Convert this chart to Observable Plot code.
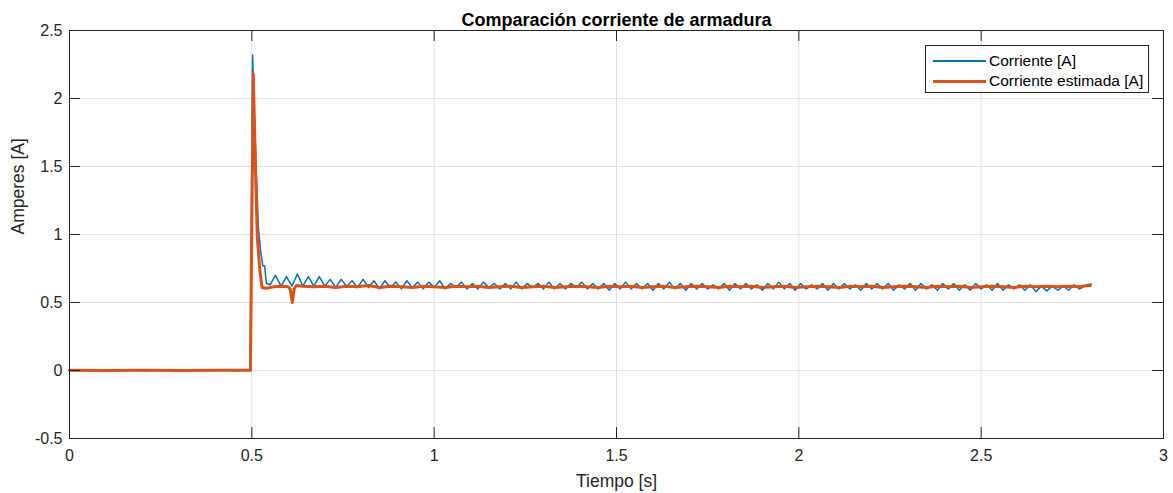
<!DOCTYPE html>
<html><head><meta charset="utf-8">
<script src="https://cdn.jsdelivr.net/npm/d3@7"></script>
<script src="https://cdn.jsdelivr.net/npm/@observablehq/plot@0.6"></script>
<style>
body{margin:0;background:#fff;}
#wrap{position:relative;width:1173px;height:493px;font-family:"Liberation Sans",Arial,sans-serif;}
.legend{position:absolute;left:925px;top:45px;width:222px;height:46px;border:1px solid #262626;background:#fff;font-size:15.5px;color:#000;}
.row{position:absolute;left:7px;height:20px;display:flex;align-items:center;white-space:nowrap;}
.sw{width:53px;margin-right:3px;}
</style></head><body><div id="wrap"></div>
<script>
const title = "Comparación corriente de armadura";
const xLabel = "Tiempo [s]";
const yLabel = "Amperes [A]";
const seriesNames = ["Corriente [A]", "Corriente estimada [A]"];
const seriesColors = ["#0072BD", "#D95319"];
const xTicks = [0, 0.5, 1, 1.5, 2, 2.5, 3];
const yTicks = [-0.5, 0, 0.5, 1, 1.5, 2, 2.5];

const timeMeasured = [0, 0.03, 0.06, 0.09, 0.12, 0.15, 0.18, 0.21, 0.24, 0.27, 0.30, 0.33, 0.36, 0.39, 0.42, 0.45, 0.48, 0.496, 0.502, 0.507, 0.5125, 0.518, 0.524, 0.530, 0.535, 0.540,
0.550, 0.565, 0.580, 0.595, 0.610, 0.625, 0.640, 0.655, 0.670, 0.685, 0.700, 0.715, 0.730, 0.745, 0.760, 0.775, 0.790, 0.805, 0.820, 0.835, 0.850, 0.865, 0.880, 0.895, 0.910, 0.925, 0.940, 0.955, 0.970, 0.985,
1.000, 1.015, 1.030, 1.045, 1.060, 1.075, 1.090, 1.105, 1.120, 1.135, 1.150, 1.165, 1.180, 1.195, 1.210, 1.225, 1.240, 1.255, 1.270, 1.285, 1.300, 1.315, 1.330, 1.345, 1.360, 1.375, 1.390, 1.405, 1.420, 1.435, 1.450, 1.465, 1.480, 1.495,
1.510, 1.525, 1.540, 1.555, 1.570, 1.585, 1.600, 1.615, 1.630, 1.645, 1.660, 1.675, 1.690, 1.705, 1.720, 1.735, 1.750, 1.765, 1.780, 1.795, 1.810, 1.825, 1.840, 1.855, 1.870, 1.885, 1.900, 1.915, 1.930, 1.945, 1.960, 1.975, 1.990,
2.005, 2.020, 2.035, 2.050, 2.065, 2.080, 2.095, 2.110, 2.125, 2.140, 2.155, 2.170, 2.185, 2.200, 2.215, 2.230, 2.245, 2.260, 2.275, 2.290, 2.305, 2.320, 2.335, 2.350, 2.365, 2.380, 2.395, 2.410, 2.425, 2.440, 2.455, 2.470, 2.485,
2.500, 2.515, 2.530, 2.545, 2.560, 2.575, 2.590, 2.605, 2.620, 2.635, 2.650, 2.665, 2.680, 2.695, 2.710, 2.725, 2.740, 2.755, 2.770, 2.785, 2.800];

const currentMeasured = [0.004, -0.002, 0.003, 0.001, -0.003, 0.004, 0.002, -0.001, 0.005, 0.002, -0.002, 0.003, 0.004, 0.000, 0.003, -0.002, 0.002, 0.003, 2.32, 1.88, 1.45, 1.05, 0.88, 0.77, 0.77, 0.64,
0.63, 0.70, 0.62, 0.69, 0.62, 0.71, 0.62, 0.69, 0.62, 0.69,
0.62, 0.67, 0.61, 0.67, 0.62, 0.66, 0.61, 0.67, 0.61, 0.66,
0.60, 0.66, 0.61, 0.65, 0.60, 0.66, 0.61, 0.65, 0.60, 0.65,
0.61, 0.66, 0.60, 0.64, 0.61, 0.65, 0.60, 0.64, 0.60, 0.65,
0.61, 0.64, 0.60, 0.64, 0.60, 0.65, 0.60, 0.64, 0.61, 0.64,
0.60, 0.65, 0.60, 0.64, 0.60, 0.64, 0.61, 0.65, 0.60, 0.64,
0.60, 0.64, 0.59, 0.64, 0.60, 0.65, 0.60, 0.64, 0.60, 0.64,
0.59, 0.64, 0.60, 0.65, 0.60, 0.64, 0.59, 0.64, 0.60, 0.64,
0.60, 0.63, 0.60, 0.64, 0.59, 0.64, 0.60, 0.64, 0.60, 0.63,
0.59, 0.64, 0.60, 0.65, 0.60, 0.64, 0.59, 0.64, 0.60, 0.63,
0.60, 0.64, 0.59, 0.64, 0.60, 0.64, 0.60, 0.63, 0.59, 0.64,
0.60, 0.64, 0.60, 0.64, 0.59, 0.63, 0.60, 0.64, 0.59, 0.64,
0.60, 0.63, 0.59, 0.64, 0.60, 0.64, 0.59, 0.63, 0.59, 0.64,
0.60, 0.63, 0.59, 0.64, 0.59, 0.63, 0.60, 0.63, 0.59, 0.63,
0.58, 0.62, 0.585, 0.62, 0.59, 0.62, 0.59, 0.63, 0.60, 0.62,
0.62];

const timeEstimated = [0, 0.1, 0.2, 0.3, 0.4, 0.496, 0.504, 0.510, 0.515, 0.522, 0.528, 0.540, 0.560, 0.580, 0.600, 0.605, 0.611, 0.616, 0.622,
0.64, 0.67, 0.70, 0.73, 0.76, 0.79, 0.82, 0.85, 0.88, 0.91, 0.94, 0.97, 1.00, 1.03, 1.06, 1.09, 1.12, 1.15, 1.18, 1.21, 1.24, 1.27, 1.30, 1.33, 1.36, 1.39, 1.42, 1.45, 1.48, 1.51, 1.54, 1.57, 1.60, 1.63, 1.66, 1.69, 1.72, 1.75, 1.78, 1.81, 1.84, 1.87, 1.90, 1.93, 1.96, 1.99,
2.02, 2.05, 2.08, 2.11, 2.14, 2.17, 2.20, 2.23, 2.26, 2.29, 2.32, 2.35, 2.38, 2.41, 2.44, 2.47, 2.50, 2.53, 2.56, 2.59, 2.62, 2.65, 2.68, 2.71, 2.74, 2.77, 2.80];

const currentEstimated = [0.001, 0, 0.001, 0, 0.001, 0.001, 2.18, 1.47, 0.98, 0.735, 0.61, 0.605, 0.615, 0.62, 0.615, 0.60, 0.50, 0.60, 0.625,
0.62, 0.615, 0.62, 0.61, 0.62, 0.615, 0.625, 0.61, 0.62, 0.615,
0.61, 0.62, 0.615, 0.61, 0.62, 0.615, 0.62, 0.61, 0.615, 0.62,
0.61, 0.615, 0.62, 0.61, 0.615, 0.62, 0.615, 0.61, 0.62, 0.615,
0.62, 0.61, 0.615, 0.62, 0.61, 0.615, 0.62, 0.615, 0.61, 0.62,
0.615, 0.62, 0.61, 0.615, 0.62, 0.61, 0.615, 0.62, 0.615, 0.61,
0.62, 0.615, 0.62, 0.61, 0.615, 0.62, 0.615, 0.61, 0.62, 0.615,
0.62, 0.61, 0.615, 0.62, 0.615, 0.61, 0.62, 0.615, 0.62, 0.615,
0.62, 0.615, 0.63];

const W = 1173, H = 493, mt = 30, mb = 55, ml = 69, mr = 10;
const innerW = W - ml - mr, innerH = H - mt - mb, tickLen = 11;
const axisColor = "#262626";

const measured = timeMeasured.map((t, i) => ({t, v: currentMeasured[i]}));
const estimated = timeEstimated.map((t, i) => ({t, v: currentEstimated[i]}));

const chart = Plot.plot({
  width: W, height: H,
  marginTop: mt, marginBottom: mb, marginLeft: ml, marginRight: mr,
  style: {fontFamily: "Liberation Sans, Arial, Helvetica, sans-serif", fontSize: "16px", color: axisColor, background: "#fff", overflow: "visible"},
  x: {domain: [0, 3], label: null},
  y: {domain: [-0.5, 2.5], label: null},
  marks: [
    Plot.gridX(xTicks, {stroke: "#dfdfdf", strokeOpacity: 1}),
    Plot.gridY(yTicks, {stroke: "#dfdfdf", strokeOpacity: 1}),
    Plot.line(measured, {x: "t", y: "v", stroke: seriesColors[0], strokeWidth: 1.5}),
    Plot.line(estimated, {x: "t", y: "v", stroke: seriesColors[1], strokeWidth: 3, strokeLinejoin: "round"}),
    Plot.ruleX(xTicks, {x: d => d, insetTop: innerH - tickLen, stroke: axisColor}),
    Plot.ruleX(xTicks, {x: d => d, insetBottom: innerH - tickLen, stroke: axisColor}),
    Plot.ruleY(yTicks, {y: d => d, insetRight: innerW - tickLen, stroke: axisColor}),
    Plot.ruleY(yTicks, {y: d => d, insetLeft: innerW - tickLen, stroke: axisColor}),
    Plot.frame({stroke: axisColor}),
    Plot.axisX(xTicks, {tickSize: 0, tickPadding: 11, tickFormat: d => String(d), label: null}),
    Plot.axisY(yTicks, {tickSize: 0, tickPadding: 7, tickFormat: d => String(d), label: null}),
    Plot.text([title], {text: d => d, frameAnchor: "top", dy: -17, fontWeight: "bold", fontSize: 18, fill: "#000"}),
    Plot.text([xLabel], {text: d => d, frameAnchor: "bottom", dy: 48, fontSize: 17.5, fill: axisColor}),
    Plot.text([yLabel], {text: d => d, frameAnchor: "left", dx: -51, rotate: -90, fontSize: 17.5, fill: axisColor})
  ]
});

const wrap = document.getElementById("wrap");
wrap.appendChild(chart);

const legend = document.createElement("div");
legend.className = "legend";
seriesNames.forEach((name, i) => {
  const row = document.createElement("div");
  row.className = "row";
  row.style.top = (5 + i * 20) + "px";
  const sw = document.createElement("div");
  sw.className = "sw";
  sw.style.height = "0px";
  sw.style.borderTop = (i === 0 ? 2 : 3) + "px solid " + seriesColors[i];
  const label = document.createElement("span");
  label.textContent = name;
  row.appendChild(sw);
  row.appendChild(label);
  legend.appendChild(row);
});
wrap.appendChild(legend);
</script></body></html>
